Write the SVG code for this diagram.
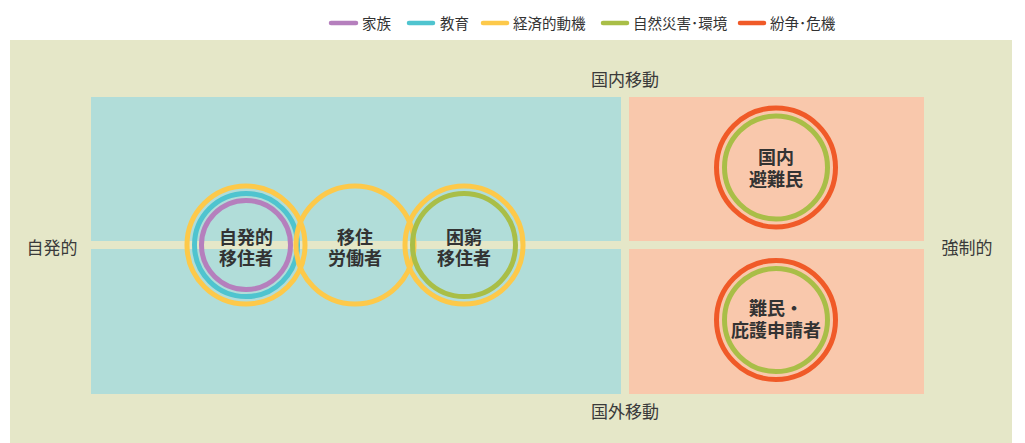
<svg xmlns="http://www.w3.org/2000/svg" width="1025" height="443" viewBox="0 0 1025 443">
<style>
.lg{stroke-width:4.5;stroke-linecap:round;fill:none}
.lt{font-family:"Noto Sans CJK JP","Noto Sans CJK SC",sans-serif;font-size:14.5px;fill:#333}
.ax{font-family:"Noto Sans CJK JP","Noto Sans CJK SC",sans-serif;font-size:17px;fill:#3a3a3a}
.nt{font-family:"Noto Sans CJK JP","Noto Sans CJK SC",sans-serif;font-size:18px;font-weight:bold;fill:#333;text-anchor:middle}
.r{fill:none;stroke-width:5}
.y{stroke:#fdc94a}.t{stroke:#4fc4cf}.p{stroke:#b57fbd}.g{stroke:#a9be47}.o{stroke:#f05a28}
</style>
<rect x="0" y="0" width="1025" height="443" fill="#ffffff"/>
<g id="legend">
<line class="lg p" x1="331" y1="23" x2="356" y2="23"/><text class="lt" x="362" y="29">家族</text>
<line class="lg t" x1="409" y1="23" x2="433" y2="23"/><text class="lt" x="440" y="29">教育</text>
<line class="lg y" x1="483" y1="23" x2="507" y2="23"/><text class="lt" x="513" y="29">経済的動機</text>
<line class="lg g" x1="603" y1="23" x2="627" y2="23"/><text class="lt" x="633" y="29">自然災害･環境</text>
<line class="lg o" x1="740" y1="23" x2="764" y2="23"/><text class="lt" x="770" y="29">紛争･危機</text>
</g>
<g id="background">
<rect x="10" y="40" width="1002" height="403" fill="#e5e7c8"/>
<rect x="91" y="97" width="530" height="144" fill="#b1ddd9"/>
<rect x="91" y="249" width="530" height="145" fill="#b1ddd9"/>
<rect x="629" y="97" width="295" height="144" fill="#f9c8ac"/>
<rect x="629" y="249" width="295" height="145" fill="#f9c8ac"/>
</g>
<g id="axis-labels">
<text class="ax" x="625" y="86" text-anchor="middle">国内移動</text>
<text class="ax" x="625" y="418" text-anchor="middle">国外移動</text>
<text class="ax" x="52" y="254" text-anchor="middle">自発的</text>
<text class="ax" x="967" y="254" text-anchor="middle">強制的</text>
</g>
<g id="node-voluntary">
<circle class="r y" cx="246" cy="245" r="59" stroke-width="4.5"/>
<circle class="r t" cx="246" cy="245" r="51.5"/>
<circle class="r p" cx="246" cy="245" r="44.5"/>
<text class="nt" x="246" y="244">自発的<tspan x="246" dy="21">移住者</tspan></text>
</g>
<g id="node-labor">
<circle class="r y" cx="355" cy="245" r="59" stroke-width="4.5"/>
<text class="nt" x="355" y="244">移住<tspan x="355" dy="21">労働者</tspan></text>
</g>
<g id="node-poverty">
<circle class="r y" cx="464" cy="245" r="59" stroke-width="4.5"/>
<circle class="r g" cx="464" cy="245" r="51.5"/>
<text class="nt" x="464" y="244">困窮<tspan x="464" dy="21">移住者</tspan></text>
</g>
<g id="node-idp">
<circle class="r o" cx="776" cy="167.5" r="59.5"/>
<circle class="r g" cx="776" cy="167.5" r="51.5"/>
<text class="nt" x="776" y="164">国内<tspan x="776" dy="22">避難民</tspan></text>
</g>
<g id="node-refugee">
<circle class="r o" cx="776" cy="320" r="59.5"/>
<circle class="r g" cx="776" cy="320" r="51.5"/>
<text class="nt" x="776" y="315">難民・<tspan x="776" dy="22">庇護申請者</tspan></text>
</g>
<g id="connectors"></g>
</svg>
